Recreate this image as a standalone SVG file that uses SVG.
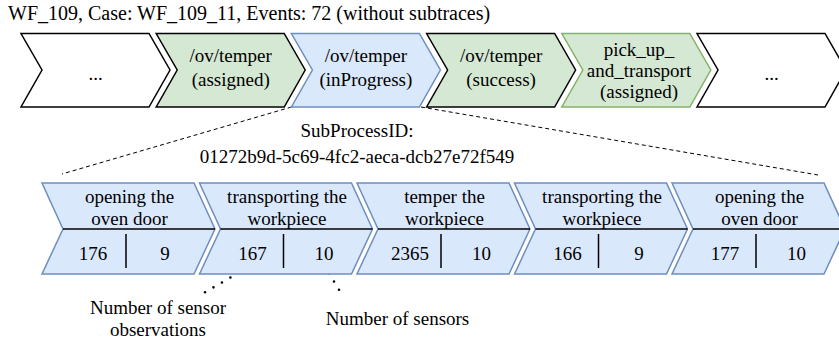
<svg xmlns="http://www.w3.org/2000/svg" width="839" height="343" viewBox="0 0 839 343">
  <defs>
    <!-- top-row step shape: 149 wide, 73.5 high, 21 deep notch/tip -->
    <path id="stepTop" d="M0,0 H128 L149,36.5 L128,73.5 H0 L21,36.5 Z"/>
    <!-- sub-process step shape: 173 wide, 91 high -->
    <path id="stepSub" d="M0,0 H152 L173,46 L152,91 H0 L21,46 Z"/>
  </defs>
  <style>
    text { font-family: "Liberation Serif", "Times New Roman", serif; font-size: 19px; fill: #000; }
    .c { text-anchor: middle; }
    .hdr { font-size: 20px; }
    .plain { fill: #ffffff; stroke: #000; stroke-width: 1.5; }
    .green { fill: #d5e8d4; stroke: #000; stroke-width: 1.5; }
    .greenLine { fill: #d5e8d4; stroke: #82b366; stroke-width: 1.5; }
    .blue { fill: #dae8fc; stroke: #6c8ebf; stroke-width: 1.5; }
    .div { stroke: #000; stroke-width: 1.5; fill: none; }
    .dash { stroke: #000; stroke-width: 1; stroke-dasharray: 4 3; fill: none; }
    .dots { stroke: #000; stroke-width: 2.6; stroke-linecap: round; fill: none; }
  </style>

  <text class="hdr" x="8" y="20">WF_109, Case: WF_109_11, Events: 72 (without subtraces)</text>

  <!-- connectors: zoom guides and annotation pointers -->
  <g id="connectors">
    <line class="dash" x1="291.5" y1="107" x2="62" y2="174"/>
    <line class="dash" x1="421" y1="107" x2="818" y2="175"/>
    <line class="dots" stroke-dasharray="0 9.78" x1="247.3" y1="267.7" x2="205" y2="292.3"/>
    <line class="dots" stroke-dasharray="0 9.63" x1="324" y1="265" x2="339" y2="289.7"/>
  </g>

  <!-- top row of process steps -->
  <g id="step-prev">
    <use href="#stepTop" class="plain" x="21" y="33.5"/>
    <text class="c" x="95.5" y="80">...</text>
  </g>
  <g id="step-temper-assigned">
    <use href="#stepTop" class="green" x="156.2" y="33.5"/>
    <text class="c" x="230.7" y="62">/ov/temper</text>
    <text class="c" x="230.7" y="86">(assigned)</text>
  </g>
  <g id="step-temper-inprogress">
    <use href="#stepTop" class="blue" x="291.4" y="33.5"/>
    <text class="c" x="365.9" y="62">/ov/temper</text>
    <text class="c" x="365.9" y="86">(inProgress)</text>
  </g>
  <g id="step-temper-success">
    <use href="#stepTop" class="green" x="426.6" y="33.5"/>
    <text class="c" x="501.1" y="62">/ov/temper</text>
    <text class="c" x="501.1" y="86">(success)</text>
  </g>
  <g id="step-pickup-assigned">
    <use href="#stepTop" class="greenLine" x="561.8" y="33.5"/>
    <text class="c" x="639" y="56">pick_up_</text>
    <text class="c" x="639" y="77">and_transport</text>
    <text class="c" x="639" y="98">(assigned)</text>
  </g>
  <g id="step-next">
    <use href="#stepTop" class="plain" x="697" y="33.5"/>
    <text class="c" x="771.5" y="80">...</text>
  </g>

  <!-- sub-process id -->
  <g id="subprocess-id">
    <text class="c" x="357" y="137">SubProcessID:</text>
    <text class="c" x="357" y="163">01272b9d-5c69-4fc2-aeca-dcb27e72f549</text>
  </g>

  <!-- sub-process steps -->
  <g id="sub-1">
    <use href="#stepSub" class="blue" x="42" y="183"/>
    <line class="div" x1="63" y1="229" x2="215" y2="229"/>
    <line class="div" x1="126" y1="234" x2="126" y2="268"/>
    <text class="c" x="129.5" y="203">opening the</text>
    <text class="c" x="129.5" y="225">oven door</text>
    <text class="c" x="93" y="260">176</text>
    <text class="c" x="165" y="260">9</text>
  </g>
  <g id="sub-2">
    <use href="#stepSub" class="blue" x="199.5" y="183"/>
    <line class="div" x1="220.5" y1="229" x2="372.5" y2="229"/>
    <line class="div" x1="283.5" y1="234" x2="283.5" y2="268"/>
    <text class="c" x="287" y="203">transporting the</text>
    <text class="c" x="287" y="225">workpiece</text>
    <text class="c" x="252.5" y="260">167</text>
    <text class="c" x="324" y="260">10</text>
  </g>
  <g id="sub-3">
    <use href="#stepSub" class="blue" x="357" y="183"/>
    <line class="div" x1="378" y1="229" x2="530" y2="229"/>
    <line class="div" x1="441" y1="234" x2="441" y2="268"/>
    <text class="c" x="444.5" y="203">temper the</text>
    <text class="c" x="444.5" y="225">workpiece</text>
    <text class="c" x="410" y="260">2365</text>
    <text class="c" x="481.5" y="260">10</text>
  </g>
  <g id="sub-4">
    <use href="#stepSub" class="blue" x="514.5" y="183"/>
    <line class="div" x1="535.5" y1="229" x2="687.5" y2="229"/>
    <line class="div" x1="598.5" y1="234" x2="598.5" y2="268"/>
    <text class="c" x="602" y="203">transporting the</text>
    <text class="c" x="602" y="225">workpiece</text>
    <text class="c" x="567.5" y="260">166</text>
    <text class="c" x="639" y="260">9</text>
  </g>
  <g id="sub-5">
    <use href="#stepSub" class="blue" x="672" y="183"/>
    <line class="div" x1="693" y1="229" x2="845" y2="229"/>
    <line class="div" x1="756" y1="234" x2="756" y2="268"/>
    <text class="c" x="759.5" y="203">opening the</text>
    <text class="c" x="759.5" y="225">oven door</text>
    <text class="c" x="725" y="260">177</text>
    <text class="c" x="796.5" y="260">10</text>
  </g>

  <!-- annotations -->
  <g id="note-observations">
    <text class="c" x="158" y="314">Number of sensor</text>
    <text class="c" x="158" y="336">observations</text>
  </g>
  <g id="note-sensors">
    <text class="c" x="397.5" y="325">Number of sensors</text>
  </g>
</svg>
